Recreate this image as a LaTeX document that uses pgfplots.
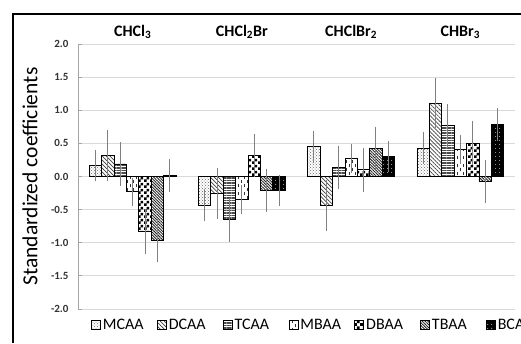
\documentclass[border=0pt]{standalone}
\usepackage{fontspec}
\setmainfont{Carlito}
\usepackage{pgfplots}
\pgfplotsset{compat=1.18}
\usetikzlibrary{patterns,patterns.meta}
\definecolor{errgray}{RGB}{128,128,128}
\definecolor{axgray}{RGB}{165,165,165}
\definecolor{gridgray}{RGB}{217,217,217}
\pgfdeclarepatternformonly{bigchecker}{\pgfpointorigin}{\pgfpoint{6pt}{6pt}}{\pgfpoint{6pt}{6pt}}{%
  \pgfpathrectangle{\pgfpointorigin}{\pgfpoint{3pt}{3pt}}%
  \pgfpathrectangle{\pgfpoint{3pt}{3pt}}{\pgfpoint{3pt}{3pt}}%
  \pgfusepath{fill}}
\pgfdeclarepatternformonly{dashvert}{\pgfpoint{-1pt}{-1pt}}{\pgfpoint{7pt}{9pt}}{\pgfpoint{6pt}{8pt}}{%
  \pgfsetlinewidth{0.7pt}%
  \pgfpathmoveto{\pgfpoint{1pt}{0pt}}\pgfpathlineto{\pgfpoint{1pt}{3pt}}%
  \pgfpathmoveto{\pgfpoint{4pt}{4pt}}\pgfpathlineto{\pgfpoint{4pt}{7pt}}%
  \pgfusepath{stroke}}
\newcommand{\grpfont}{\bfseries\fontsize{16}{19}\selectfont}
\newcommand{\legfont}{\fontsize{16}{19}\selectfont}
\newcommand{\tickfont}{\bfseries\fontsize{11}{13}\selectfont}
\newcommand{\labfont}{\fontsize{21.5}{25}\selectfont}
\newcommand{\legent}[1]{\makebox[52pt][l]{#1}}
\begin{document}
\begin{tikzpicture}
\begin{axis}[
  at={(78pt,34pt)}, anchor=south west,
  scale only axis, width=437pt, height=265pt,
  xmin=-0.5, xmax=3.5, ymin=-2, ymax=2,
  ybar=0pt, bar width=12.4pt,
  axis x line*=top, axis y line*=left,
  x axis line style={draw=none},
  y axis line style={draw=axgray, line width=0.8pt},
  xtick={0,1,2,3},
  xticklabels={CHCl\textsubscript{3}, CHCl\textsubscript{2}Br, CHClBr\textsubscript{2}, CHBr\textsubscript{3}},
  xticklabel style={font=\grpfont, anchor=base, yshift=8pt},
  major x tick style={draw=none},
  ytick={-2,-1.5,...,2},
  yticklabel style={font=\tickfont, text=black!80, xshift=-6pt, /pgf/number format/.cd, fixed, fixed zerofill, precision=1, assume math mode=true},
  ymajorgrids, grid style={draw=gridgray, line width=0.8pt},
  major y tick style={draw=axgray, line width=0.8pt},
  tick align=inside, major tick length=4pt,
  ylabel={Standardized coefficients},
  ylabel style={font=\labfont, at={(axis description cs:-0.1098,0.5)}, anchor=center},
  error bars/y dir=both, error bars/y explicit,
  error bars/error bar style={color=errgray, line width=1pt},
  error bars/error mark options={color=errgray, line width=1pt, mark size=2.5pt},
  legend columns=-1,
  legend style={draw=none, fill=none, inner sep=0pt, at={(axis description cs:0.0297,-0.0604)}, anchor=west, font=\legfont, nodes={inner sep=2pt, anchor=west}},
  legend image code/.code={\draw[#1] (0pt,-4.5pt) rectangle (9pt,4.5pt);},
]
% MCAA
\addplot[draw=black, line width=0.8pt, pattern=crosshatch dots, pattern color=black!60]
  coordinates {(0,0.165) +- (0,0.20) (1,-0.43) +- (0,0.21) (2,0.45) +- (0,0.205) (3,0.43) +- (0,0.20)};
\addlegendentry{\legent{MCAA}}
% DCAA
\addplot[draw=black, line width=0.8pt, pattern={Lines[angle=-45,distance=2.8pt,line width=0.7pt]}, pattern color=black!75]
  coordinates {(0,0.315) +- (0,0.35) (1,-0.255) +- (0,0.35) (2,-0.44) +- (0,0.35) (3,1.105) +- (0,0.34)};
\addlegendentry{\legent{DCAA}}
% TCAA
\addplot[draw=black, line width=0.8pt, pattern={Lines[angle=0,distance=2.5pt,line width=1.1pt]}, pattern color=black!70]
  coordinates {(0,0.19) +- (0,0.29) (1,-0.655) +- (0,0.29) (2,0.14) +- (0,0.29) (3,0.765) +- (0,0.295)};
\addlegendentry{\legent{TCAA}}
% MBAA
\addplot[draw=black, line width=0.8pt, pattern=dashvert, pattern color=black!80]
  coordinates {(0,-0.23) +- (0,0.175) (1,-0.345) +- (0,0.185) (2,0.275) +- (0,0.185) (3,0.41) +- (0,0.18)};
\addlegendentry{\legent{MBAA}}
% DBAA
\addplot[draw=black, line width=0.8pt, pattern=bigchecker, pattern color=black]
  coordinates {(0,-0.825) +- (0,0.30) (1,0.32) +- (0,0.29) (2,0.10) +- (0,0.295) (3,0.505) +- (0,0.30)};
\addlegendentry{\legent{DBAA}}
% TBAA
\addplot[draw=black, line width=0.8pt, pattern={Lines[angle=-45,distance=2pt,line width=0.9pt]}, pattern color=black!85]
  coordinates {(0,-0.965) +- (0,0.285) (1,-0.215) +- (0,0.285) (2,0.425) +- (0,0.28) (3,-0.075) +- (0,0.28)};
\addlegendentry{\legent{TBAA}}
% BCAA
\addplot[draw=black, line width=0.8pt, fill=black, postaction={pattern color=white, pattern={Dots[distance=4pt,radius=0.55pt]}}]
  coordinates {(0,0.02) +- (0,0.21) (1,-0.21) +- (0,0.20) (2,0.30) +- (0,0.20) (3,0.785) +- (0,0.205)};
\addlegendentry{\legent{BCAA}}
\end{axis}
\draw[line width=2pt] (13pt,0pt) -- (13pt,328.7pt) -- (530pt,328.7pt);
\pgfresetboundingbox
\path[use as bounding box] (0pt,0pt) rectangle (521pt,343pt);
\end{tikzpicture}
\end{document}
